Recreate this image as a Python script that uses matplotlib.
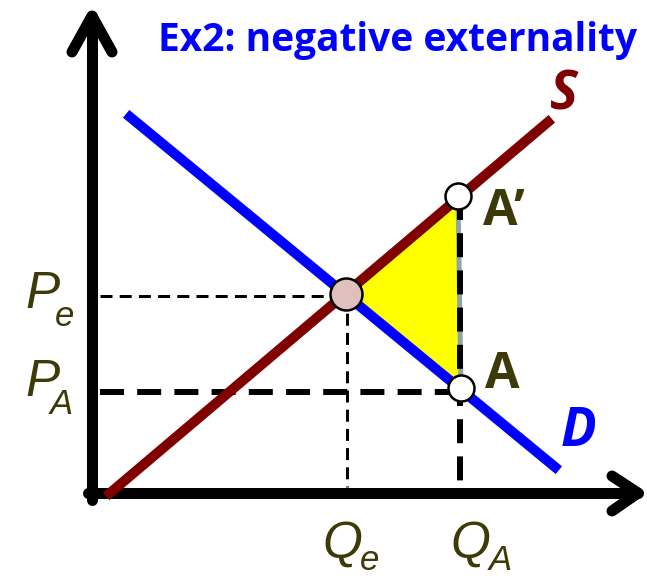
import matplotlib
matplotlib.use('Agg')
import matplotlib.pyplot as plt
from matplotlib.patches import Polygon

# economic coordinates (origin where the axes meet)
supply_q = [18, 456]
supply_p = [0, 371]
demand_q = [38, 463]
demand_p = [376, 26]

q_e, p_e = 254, 199
q_a, p_a = 368, 101
a_prime = (366, 297)
a_point = (369, 105)

label_color = '#3d3a08'


def px(w):
    # pixels -> points at 100 dpi
    return w * 0.72


fig = plt.figure(figsize=(6.47, 5.76), dpi=100)
ax = fig.add_axes([0, 0, 1, 1])
ax.set_xlim(-92, 555)
ax.set_ylim(-83, 493)
ax.axis('off')

# axes with open arrow heads
axis_kw = dict(color='black', lw=px(11), solid_capstyle='round', solid_joinstyle='round')
ax.plot([0, 0], [-7, 477], **axis_kw)
ax.plot([-20, 0, 20], [441, 477, 441], **axis_kw)
ax.plot([-4, 546], [0, 0], **axis_kw)
ax.plot([520, 546, 520], [17, 0, -18], **axis_kw)

# deadweight triangle
tri = Polygon([(q_e, p_e), a_prime, a_point], closed=True,
              facecolor='#ffff00', edgecolor='#8fa5a8', lw=px(5), zorder=2)
ax.add_patch(tri)

# dashed guides
thin = dict(color='black', lw=px(3), dashes=(4, 2.4), zorder=3)
thick = dict(color='black', lw=px(6), dashes=(4, 2.2), zorder=3)
ax.plot([8, q_e], [p_e - 2, p_e - 2], **thin)
ax.plot([q_e + 1, q_e + 1], [p_e, 6], **thin)
ax.plot([8, q_a], [p_a, p_a], **thick)
ax.plot([q_a, q_a], [a_prime[1], 6], **thick)

# demand and supply
ax.plot(demand_q, demand_p, color='#0000ff', lw=px(10), zorder=4)
ax.plot(supply_q, supply_p, color='#800000', lw=px(10), zorder=5)

# points
ax.scatter([q_e], [p_e], s=px(32) ** 2, facecolor='#dfc0bc', edgecolor='black',
           linewidth=px(2.5), zorder=6)
ax.scatter([a_prime[0], a_point[0]], [a_prime[1], a_point[1]], s=px(26) ** 2,
           facecolor='white', edgecolor='black', linewidth=px(2.5), zorder=6)

# texts
ax.text(306, 452, 'Ex2: negative externality', color='#0000ff', fontsize=28,
        fontweight='bold', family='Open Sans', ha='center', va='center')
ax.text(472, 397, 'S', color='#800000', fontsize=38, fontweight='bold',
        fontstyle='italic', family='Open Sans', ha='center', va='center')
ax.text(487, 61, 'D', color='#0000ff', fontsize=38, fontweight='bold',
        fontstyle='italic', family='Open Sans', ha='center', va='center')
ax.text(412, 281, 'A’', color=label_color, fontsize=36, fontweight='bold',
        family='Open Sans', ha='center', va='center')
ax.text(410, 118, 'A', color=label_color, fontsize=36, fontweight='bold',
        family='Open Sans', ha='center', va='center')

big = dict(color=label_color, fontsize=37, fontstyle='italic',
           family='Liberation Sans', ha='center', va='center')
small = dict(color=label_color, fontsize=25, fontstyle='italic',
             family='Liberation Sans', ha='center', va='center')
ax.text(-49, 199, 'P', **big)
ax.text(-27, 176, 'e', **small)
ax.text(-49, 110, 'P', **big)
ax.text(-31, 89, 'A', **small)
ax.text(250, -51, 'Q', **big)
ax.text(278, -67, 'e', **small)
ax.text(378, -51, 'Q', **big)
ax.text(408, -67, 'A', **small)

fig.savefig('out.png', dpi=100)
